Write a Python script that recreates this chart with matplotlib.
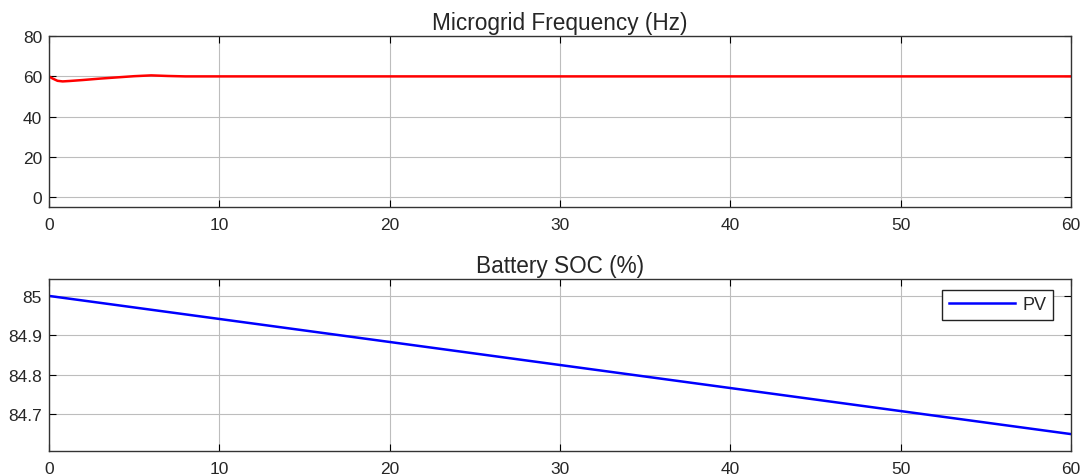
import matplotlib
matplotlib.use("Agg")
import matplotlib.pyplot as plt
import numpy as np

plt.rcParams['font.family'] = ['Liberation Sans', 'DejaVu Sans']

# Frequency data (Hz)
freq_t = [0, 0.2, 0.5, 0.8, 1.2, 2.0, 3.0, 4.0, 5.0, 6.0, 7.0, 8.0, 10, 20, 30, 40, 50, 60]
freq_v = [60.0, 59.0, 57.8, 57.5, 57.7, 58.2, 58.9, 59.5, 60.1, 60.5, 60.2, 60.0, 60.0, 60.0, 60.0, 60.0, 60.0, 60.0]

# Battery SOC (%)
soc_t = [0, 60]
soc_v = [85.0, 84.649]

TXT = '#262626'

fig = plt.figure(figsize=(10.86, 4.77), dpi=100)
ax1 = fig.add_axes([0.0451, 0.564, 0.941, 0.358])
ax2 = fig.add_axes([0.0451, 0.0524, 0.941, 0.3606])

def style(ax):
    ax.grid(True, color='#bdbdbd', linewidth=0.8)
    ax.tick_params(axis='both', direction='in', top=True, right=True, labelsize=12.5,
                   length=5, color='black', labelcolor=TXT)
    ax.tick_params(axis='x', pad=7)
    ax.tick_params(axis='y', pad=5)
    for s in ax.spines.values():
        s.set_color('#333333')
        s.set_linewidth(1.0)
    ax.set_xlim(0, 60)
    ax.set_xticks([0, 10, 20, 30, 40, 50, 60])

ax1.plot(freq_t, freq_v, color='red', linewidth=1.8)
style(ax1)
ax1.set_ylim(-5, 80)
ax1.set_yticks([0, 20, 40, 60, 80])
ax1.set_title('Microgrid Frequency (Hz)', fontsize=16.3, pad=5.5, color=TXT)

ax2.plot(soc_t, soc_v, color='blue', linewidth=1.8, label='PV')
style(ax2)
ax2.set_ylim(84.606, 85.043)
ax2.set_yticks([84.7, 84.8, 84.9, 85.0])
ax2.set_yticklabels(['84.7', '84.8', '84.9', '85'])
ax2.set_title('Battery SOC (%)', fontsize=16.3, pad=5, color=TXT)
leg = ax2.legend(loc='upper right', bbox_to_anchor=(0.9824, 0.936), borderaxespad=0,
                 fontsize=13, fancybox=False, framealpha=1, edgecolor='#222222',
                 handlelength=3.7, handletextpad=0.4, borderpad=0.35)
leg.get_frame().set_linewidth(1.0)
for t in leg.get_texts():
    t.set_color(TXT)

fig.savefig('out.png', dpi=100)
